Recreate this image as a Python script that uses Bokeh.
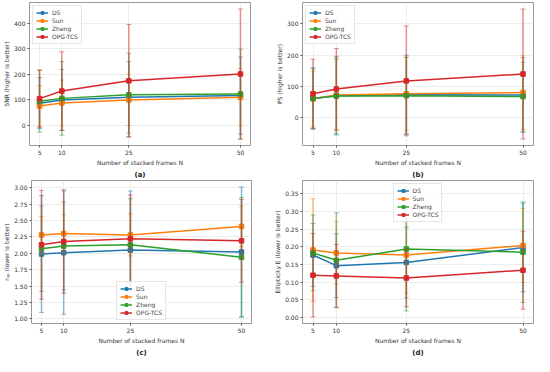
from bokeh.plotting import figure
from bokeh.layouts import column, row
from bokeh.models import ColumnDataSource, FixedTicker, Range1d, NumeralTickFormatter
from bokeh.embed import file_html
from bokeh.resources import INLINE

# ---------------- data ----------------
N = [5, 10, 25, 50]
methods = ["DS", "Sun", "Zheng", "OPG-TCS"]
colors = ["#1f77b4", "#ff7f0e", "#2ca02c", "#d62728"]

# (a) SNR
snr_ds = [86, 99, 109, 116]
snr_ds_err = [100, 120, 141, 152]
snr_sun = [75, 87, 99, 109]
snr_sun_err = [80, 90, 101, 113]
snr_zheng = [94, 105, 119, 122]
snr_zheng_err = [122, 145, 164, 177]
snr_opg = [104, 134, 174, 201]
snr_opg_err = [113, 155, 222, 256]

# (b) PS
ps_ds = [62, 71, 74, 73]
ps_ds_err = [98, 125, 126, 119]
ps_sun = [61, 73, 77, 81]
ps_sun_err = [88, 113, 116, 117]
ps_zheng = [62, 70, 71, 68]
ps_zheng_err = [95, 121, 122, 110]
ps_opg = [77, 92, 118, 140]
ps_opg_err = [110, 129, 175, 207]

# (c) r_ap
rap_ds = [1.99, 2.01, 2.05, 2.02]
rap_ds_err = [0.89, 0.94, 0.90, 0.99]
rap_sun = [2.28, 2.30, 2.28, 2.41]
rap_sun_err = [0.28, 0.29, 0.32, 0.31]
rap_zheng = [2.07, 2.11, 2.13, 1.94]
rap_zheng_err = [0.65, 0.67, 0.70, 0.91]
rap_opg = [2.13, 2.18, 2.22, 2.19]
rap_opg_err = [0.83, 0.79, 0.67, 0.63]

# (d) Ellipticity
ell_ds = [0.177, 0.147, 0.156, 0.198]
ell_ds_err = [0.089, 0.090, 0.100, 0.125]
ell_sun = [0.191, 0.183, 0.177, 0.204]
ell_sun_err = [0.145, 0.089, 0.108, 0.104]
ell_zheng = [0.183, 0.162, 0.194, 0.185]
ell_zheng_err = [0.107, 0.134, 0.175, 0.142]
ell_opg = [0.120, 0.118, 0.112, 0.134]
ell_opg_err = [0.118, 0.089, 0.081, 0.110]

FONT = "DejaVu Sans"


def panel(means, errs, ylabel, yticks, fmt, legend_loc, caption,
          width, height, mbl, mbr):
    lows = [m - e for ms, es in zip(means, errs) for m, e in zip(ms, es)]
    highs = [m + e for ms, es in zip(means, errs) for m, e in zip(ms, es)]
    lo, hi = min(lows), max(highs)
    pad = 0.05 * (hi - lo)
    p = figure(width=width, height=height, output_backend="svg",
               toolbar_location=None, title=caption, title_location="below",
               x_range=Range1d(2.75, 52.25), y_range=Range1d(lo - pad, hi + pad),
               min_border_left=mbl, min_border_right=mbr,
               min_border_top=2, min_border_bottom=0)
    for name, c, m, e in zip(methods, colors, means, errs):
        src = ColumnDataSource(dict(x=N, y=m,
                                    lo=[a - b for a, b in zip(m, e)],
                                    hi=[a + b for a, b in zip(m, e)]))
        p.segment(x0="x", y0="lo", x1="x", y1="hi", source=src,
                  line_color=c, line_alpha=0.5, line_width=1.5)
        p.scatter(x="x", y="lo", source=src, marker="dash", size=5,
                  line_color=c, line_alpha=0.5, line_width=1)
        p.scatter(x="x", y="hi", source=src, marker="dash", size=5,
                  line_color=c, line_alpha=0.5, line_width=1)
        p.line(x="x", y="y", source=src, line_color=c, line_width=1.5,
               legend_label=name)
        p.scatter(x="x", y="y", source=src, marker="square", size=4.5,
                  fill_color=c, line_color=c, legend_label=name)

    p.xaxis.ticker = FixedTicker(ticks=N)
    p.yaxis.ticker = FixedTicker(ticks=yticks)
    p.yaxis.formatter = NumeralTickFormatter(format=fmt)
    p.xaxis.axis_label = "Number of stacked frames N"
    p.yaxis.axis_label = ylabel
    for ax in (p.xaxis, p.yaxis):
        ax.major_label_text_font_size = "6px"
        ax.major_label_text_font = FONT
        ax.major_label_text_color = "#333333"
        ax.axis_label_text_font_size = "6px"
        ax.axis_label_text_font = FONT
        ax.axis_label_text_font_style = "normal"
        ax.axis_label_text_color = "#333333"
        ax.minor_tick_line_color = None
        ax.major_tick_in = 0
        ax.major_tick_out = 2
        ax.major_tick_line_color = "#555555"
        ax.axis_line_color = None
        ax.major_label_standoff = 2
        ax.axis_label_standoff = 1
    p.outline_line_color = "#999999"
    p.outline_line_width = 1
    p.grid.grid_line_color = "#e8e8e8"
    p.grid.grid_line_width = 0.8

    p.title.align = "center"
    p.title.text_font = FONT
    p.title.text_font_size = "7px"
    p.title.text_font_style = "bold"
    p.title.text_color = "#222222"
    p.title.standoff = 0
    p.title.offset = 0
    p.title.text_line_height = 0.7

    lg = p.legend[0]
    lg.location = legend_loc
    lg.label_text_font_size = "6px"
    lg.label_text_font = FONT
    lg.label_height = 6
    lg.glyph_height = 7
    lg.glyph_width = 12
    lg.spacing = 1
    lg.padding = 3
    lg.margin = 3
    lg.label_standoff = 4
    lg.border_line_color = "#cccccc"
    lg.background_fill_alpha = 0.85
    return p


pa = panel([snr_ds, snr_sun, snr_zheng, snr_opg],
           [snr_ds_err, snr_sun_err, snr_zheng_err, snr_opg_err],
           "SNR (higher is better)", [0, 100, 200, 300, 400], "0",
           "top_left", "(a)", 267, 178, 16, 17)
pb = panel([ps_ds, ps_sun, ps_zheng, ps_opg],
           [ps_ds_err, ps_sun_err, ps_zheng_err, ps_opg_err],
           "PS (higher is better)", [0, 100, 200, 300], "0",
           "top_left", "(b)", 267, 178, 35, 1)
pc = panel([rap_ds, rap_sun, rap_zheng, rap_opg],
           [rap_ds_err, rap_sun_err, rap_zheng_err, rap_opg_err],
           "rₐₚ (lower is better)",
           [1.0, 1.25, 1.5, 1.75, 2.0, 2.25, 2.5, 2.75, 3.0], "0.00",
           "bottom_center", "(c)", 267, 178, 21, 16)
pd_ = panel([ell_ds, ell_sun, ell_zheng, ell_opg],
            [ell_ds_err, ell_sun_err, ell_zheng_err, ell_opg_err],
            "Ellipticity E (lower is better)",
            [0.0, 0.05, 0.1, 0.15, 0.2, 0.25, 0.3, 0.35], "0.00",
            "top_center", "(d)", 267, 178, 35, 1)

layout = column(row(pa, pb), row(pc, pd_))
open("out.html", "w").write(file_html(layout, INLINE))
